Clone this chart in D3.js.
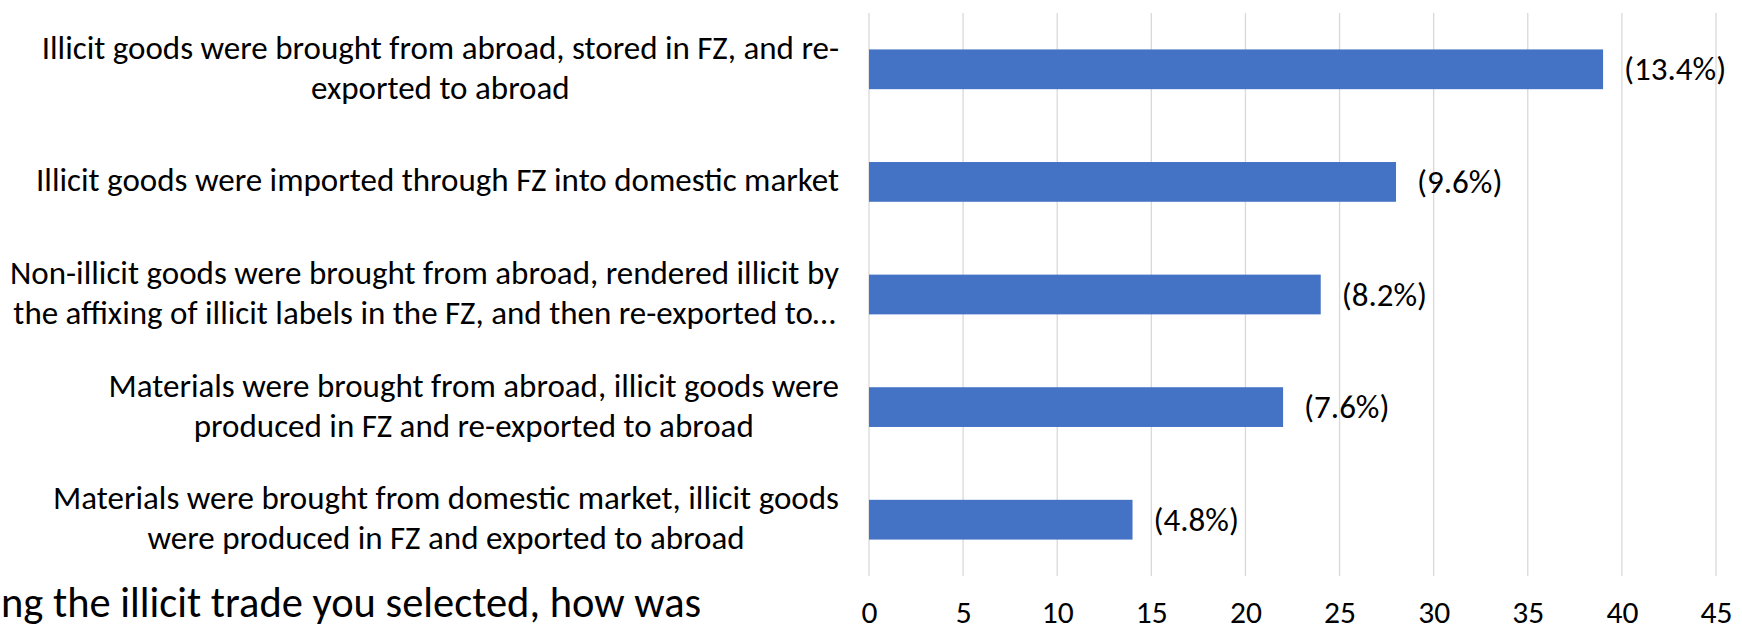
<!DOCTYPE html>
<html><head><meta charset="utf-8">
<script src="https://cdn.jsdelivr.net/npm/d3@7"></script>
<style>body{margin:0;background:#fff;overflow:hidden}</style></head>
<body><svg id="c" width="1742" height="632"></svg>
<script>
// ---- data ----
const categories = [
  ["Illicit goods were brought from abroad, stored in FZ, and re-", "exported to abroad"],
  ["Illicit goods were imported through FZ into domestic market"],
  ["Non-illicit goods were brought from abroad, rendered illicit by", "the affixing of illicit labels in the FZ, and then re-exported to\u2026"],
  ["Materials were brought from abroad, illicit goods were", "produced in FZ and re-exported to abroad"],
  ["Materials were brought from domestic market, illicit goods", "were produced in FZ and exported to abroad"]
];
const values = [39, 28, 24, 22, 14];
const valueLabels = ["(13.4%)", "(9.6%)", "(8.2%)", "(7.6%)", "(4.8%)"];
const xTicks = [0, 5, 10, 15, 20, 25, 30, 35, 40, 45];
const footerText = "ng the illicit trade you selected, how was";

// ---- layout ----
const FONT = "Carlito, Calibri, 'Liberation Sans', sans-serif";
const svg = d3.select("#c");
const x = d3.scaleLinear().domain([0, 45]).range([869, 1716]);
const y = d3.scaleBand().domain(d3.range(categories.length)).range([13, 576])
  .paddingInner(0.647).paddingOuter(0.3235);

// gridlines
svg.append("g").selectAll("line").data(xTicks).join("line")
  .attr("x1", d => x(d)).attr("x2", d => x(d))
  .attr("y1", 13).attr("y2", 576)
  .attr("stroke", "#d9d9d9").attr("stroke-width", 1.3);

// bars
svg.append("g").selectAll("rect").data(values).join("rect")
  .attr("x", x(0)).attr("y", (d, i) => y(i))
  .attr("width", d => x(d) - x(0)).attr("height", y.bandwidth())
  .attr("fill", "#4472c4");

// value labels
svg.append("g").selectAll("text").data(values).join("text")
  .attr("x", d => x(d) + 21)
  .attr("y", (d, i) => y(i) + y.bandwidth() / 2 + 11)
  .style("font-family", FONT).style("font-size", "33px").attr("fill", "#000")
  .text((d, i) => valueLabels[i]);

// x axis tick labels
const axis = d3.axisBottom(x).tickValues(xTicks).tickSize(0).tickPadding(0).tickFormat(d3.format("d"));
const ag = svg.append("g").attr("transform", "translate(0,576)").call(axis);
ag.select(".domain").remove();
ag.selectAll("text").attr("dy", null).attr("y", 47)
  .style("font-family", FONT).style("font-size", "31.5px").attr("fill", "#000");

// category labels (block right-aligned, lines centred)
const labelRight = 839, lineH = 40;
categories.forEach((lines, i) => {
  const cy = y(i) + y.bandwidth() / 2;
  const g = svg.append("g");
  const ts = lines.map((ln, j) => g.append("text")
    .attr("y", cy + 9.5 + (j - (lines.length - 1) / 2) * lineH)
    .style("font-family", FONT).style("font-size", "33px").attr("fill", "#000")
    .attr("text-anchor", "middle").text(ln));
  const maxW = d3.max(ts, t => t.node().getComputedTextLength());
  ts.forEach(t => t.attr("x", labelRight - maxW / 2));
});

// cropped footer text
svg.append("text").attr("x", 1).attr("y", 617)
  .style("font-family", FONT).style("font-size", "42.5px").attr("fill", "#000")
  .text(footerText);
</script></body></html>
